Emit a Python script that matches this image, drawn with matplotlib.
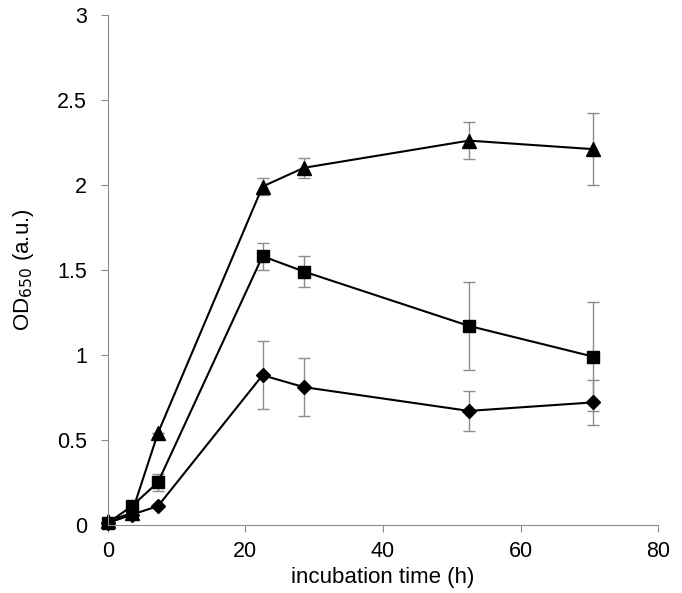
import matplotlib.pyplot as plt
from matplotlib.ticker import FuncFormatter

plt.rcParams['font.family'] = ['Liberation Sans', 'DejaVu Sans']

# incubation time (h)
time = [0, 3.5, 7.3, 22.5, 28.5, 52.5, 70.5]

# OD650 of the three cultures with their error bars
tri = [0.02, 0.07, 0.54, 1.99, 2.10, 2.26, 2.21]
tri_err = [0, 0, 0, 0.05, 0.06, 0.11, 0.21]
sq = [0.01, 0.11, 0.25, 1.58, 1.49, 1.17, 0.99]
sq_err = [0, 0, 0.05, 0.08, 0.09, 0.26, 0.32]
dia = [0.01, 0.06, 0.11, 0.88, 0.81, 0.67, 0.72]
dia_err = [0, 0, 0, 0.20, 0.17, 0.12, 0.13]

fig = plt.figure(figsize=(6.82, 5.93), dpi=100)
ax = fig.add_axes([0.158, 0.115, 0.807, 0.86])

ebar = dict(ecolor='#8c8c8c', elinewidth=1, capsize=4, capthick=1, color='black', lw=1.5)
ax.errorbar(time, dia, yerr=dia_err, marker='D', ms=7, **ebar)
ax.errorbar(time, sq, yerr=sq_err, marker='s', ms=9, **ebar)
ax.errorbar(time, tri, yerr=tri_err, marker='^', ms=9.5, **ebar)

ax.set_xlim(0, 80)
ax.set_ylim(0, 3)
ax.set_xticks([0, 20, 40, 60, 80])
ax.set_yticks([0, 0.5, 1, 1.5, 2, 2.5, 3])
ax.yaxis.set_major_formatter(FuncFormatter(lambda v, p: '%g' % v))
ax.spines['top'].set_visible(False)
ax.spines['right'].set_visible(False)
for s in ['left', 'bottom']:
    ax.spines[s].set_color('#8c8c8c')
ax.tick_params(direction='out', color='#8c8c8c', length=5, labelsize=15.5)
ax.tick_params(axis='x', pad=7)
ax.tick_params(axis='y', pad=10)
ax.set_xlabel('incubation time (h)', fontsize=16, labelpad=3)
ax.set_ylabel('OD$_{650}$ (a.u.)', fontsize=16, labelpad=15)
for l in ax.get_lines():
    l.set_clip_on(False)

fig.savefig('out.png', dpi=100)
